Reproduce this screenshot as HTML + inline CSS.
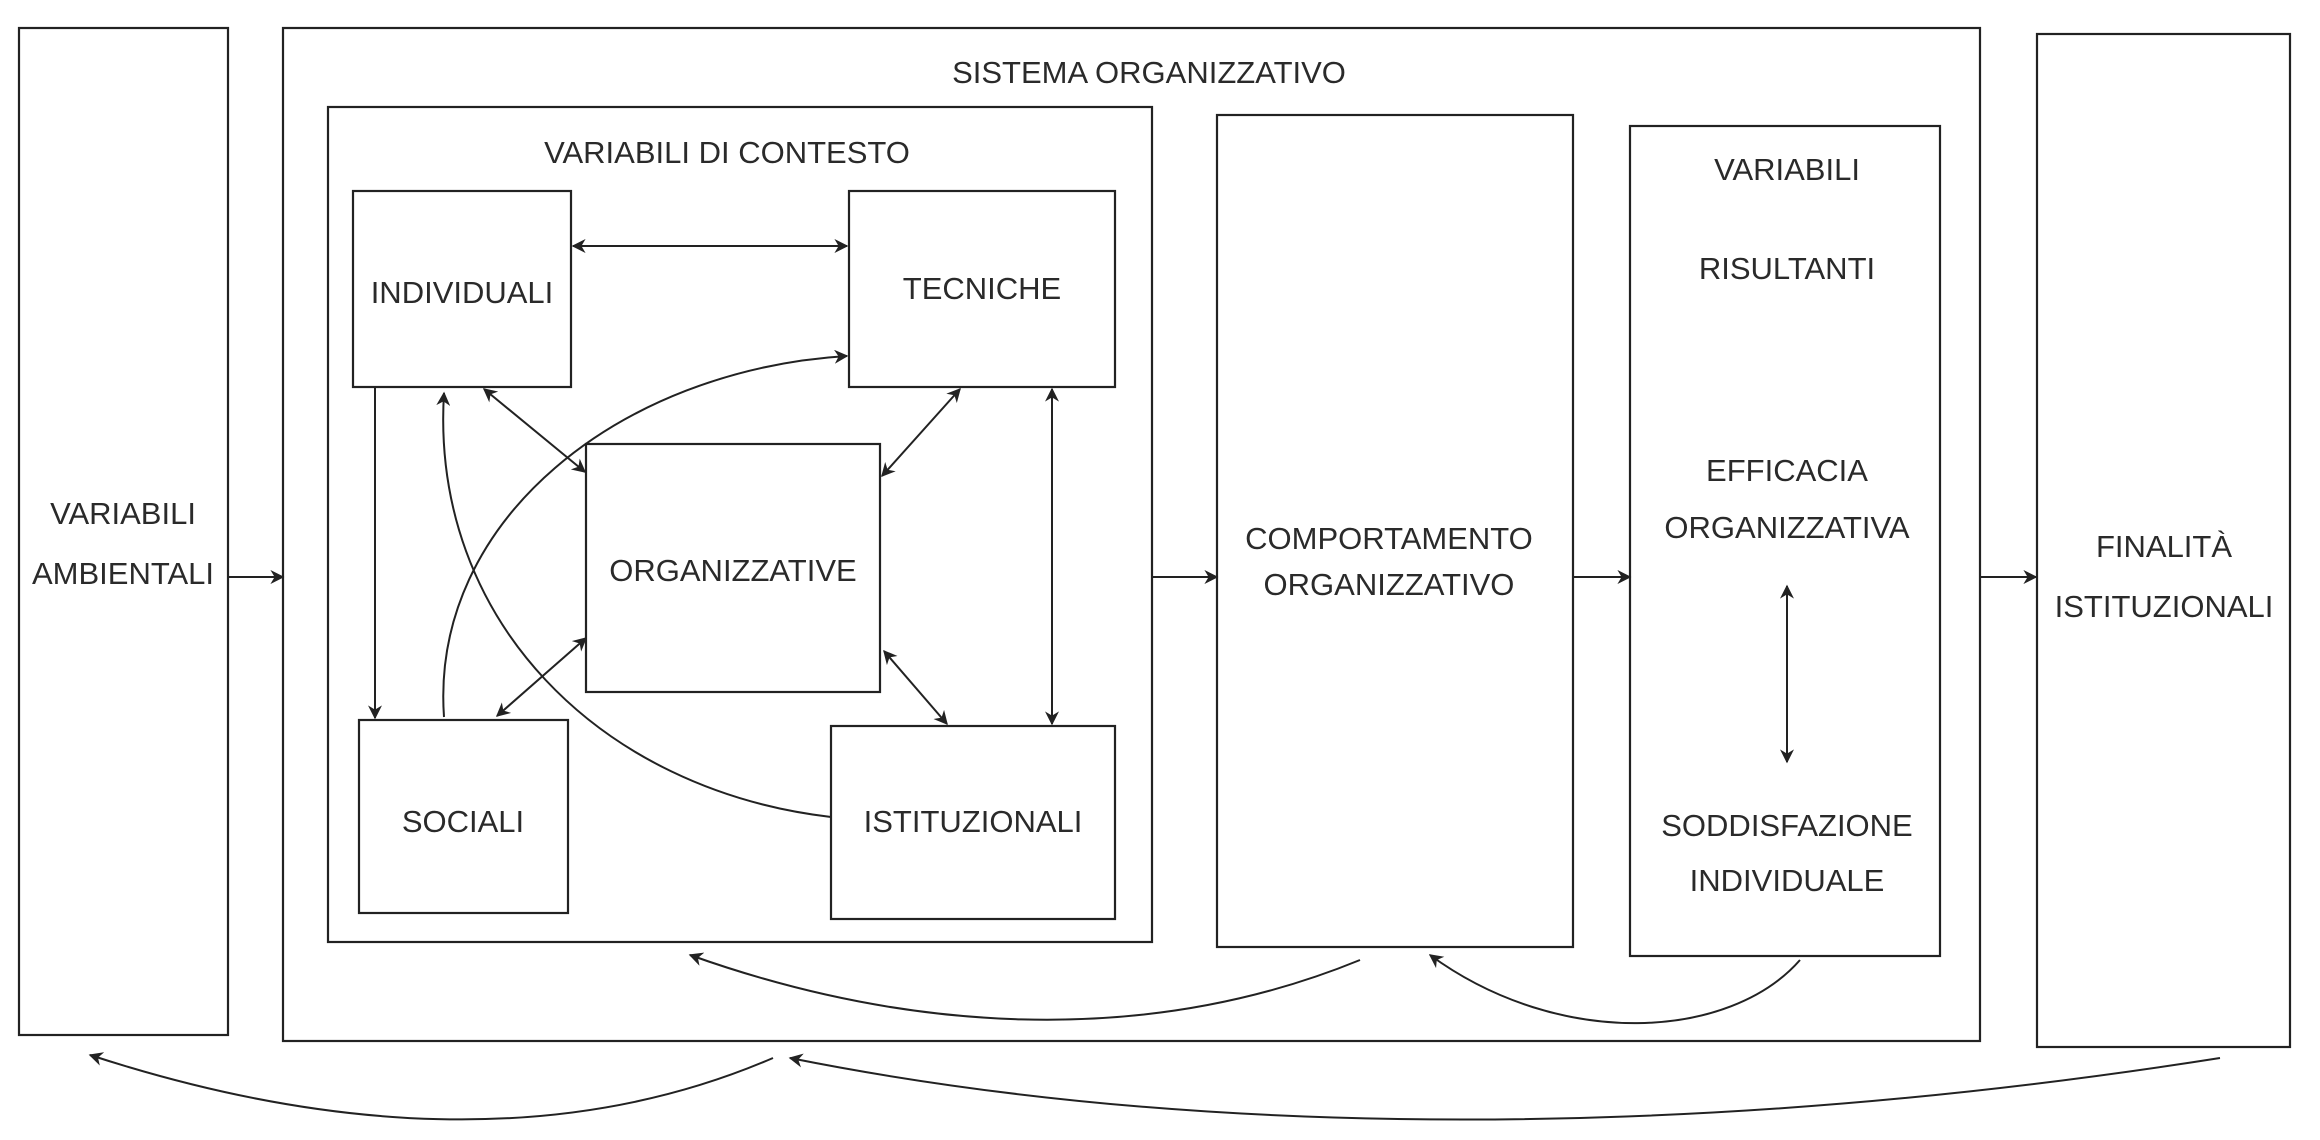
<!DOCTYPE html>
<html><head><meta charset="utf-8"><style>
html,body{margin:0;padding:0;background:#fff;}
svg{display:block;}
text{font-family:"Liberation Sans",sans-serif;font-size:31px;fill:#2a2a2a;text-anchor:middle;}
</style></head><body>
<svg width="2320" height="1140" viewBox="0 0 2320 1140" xmlns="http://www.w3.org/2000/svg">
<defs>
<marker id="a" viewBox="0 0 10 10" refX="9" refY="5" markerWidth="7" markerHeight="7" markerUnits="userSpaceOnUse" orient="auto-start-reverse">
<path d="M0,0 L10,5 L0,10 L3,5 z" fill="#222"/>
</marker>
<marker id="b" viewBox="0 0 10 10" refX="9" refY="5" markerWidth="14" markerHeight="14" markerUnits="userSpaceOnUse" orient="auto-start-reverse">
<path d="M0,0 L10,5 L0,10 L3,5 z" fill="#222"/>
</marker>
</defs>
<g fill="none" stroke="#222" stroke-width="2.2">
<rect x="19" y="28" width="209" height="1007"/>
<rect x="283" y="28" width="1697" height="1013"/>
<rect x="328" y="107" width="824" height="835"/>
<rect x="353" y="191" width="218" height="196"/>
<rect x="849" y="191" width="266" height="196"/>
<rect x="586" y="444" width="294" height="248"/>
<rect x="359" y="720" width="209" height="193"/>
<rect x="831" y="726" width="284" height="193"/>
<rect x="1217" y="115" width="356" height="832"/>
<rect x="1630" y="126" width="310" height="830"/>
<rect x="2037" y="34" width="253" height="1013"/>
</g>
<g fill="none" stroke="#222" stroke-width="2">
<line x1="228" y1="577" x2="283" y2="577" marker-end="url(#b)"/>
<line x1="1152" y1="577" x2="1217" y2="577" marker-end="url(#b)"/>
<line x1="1573" y1="577" x2="1630" y2="577" marker-end="url(#b)"/>
<line x1="1980" y1="577" x2="2036" y2="577" marker-end="url(#b)"/>
<line x1="573" y1="246" x2="847" y2="246" marker-start="url(#b)" marker-end="url(#b)"/>
<line x1="375" y1="387" x2="375" y2="718" marker-end="url(#b)"/>
<line x1="484" y1="389" x2="585" y2="472" marker-start="url(#b)" marker-end="url(#b)"/>
<line x1="960" y1="389" x2="882" y2="476" marker-start="url(#b)" marker-end="url(#b)"/>
<line x1="1052" y1="389" x2="1052" y2="724" marker-start="url(#b)" marker-end="url(#b)"/>
<line x1="586" y1="638" x2="497" y2="716" marker-start="url(#b)" marker-end="url(#b)"/>
<line x1="884" y1="651" x2="947" y2="724" marker-start="url(#b)" marker-end="url(#b)"/>
<line x1="1787" y1="586" x2="1787" y2="762" marker-start="url(#b)" marker-end="url(#b)"/>
<path d="M444,717 C430,520 620,370 847,356" marker-end="url(#b)"/>
<path d="M831,817 C600,790 430,620 444,393" marker-end="url(#b)"/>
<path d="M1800,960 C1730,1040 1560,1050 1430,955" marker-end="url(#b)"/>
<path d="M1360,960 C1140,1050 900,1030 690,955" marker-end="url(#b)"/>
<path d="M2220,1058 C1700,1140 1200,1140 790,1058" marker-end="url(#b)"/>
<path d="M773,1058 C560,1150 320,1130 90,1055" marker-end="url(#b)"/>
</g>
<text x="1149" y="83">SISTEMA  ORGANIZZATIVO</text>
<text x="727" y="163">VARIABILI DI CONTESTO</text>
<text x="462" y="303">INDIVIDUALI</text>
<text x="982" y="299">TECNICHE</text>
<text x="733" y="581">ORGANIZZATIVE</text>
<text x="463" y="832">SOCIALI</text>
<text x="973" y="832">ISTITUZIONALI</text>
<text x="123" y="524">VARIABILI</text>
<text x="123" y="584">AMBIENTALI</text>
<text x="1389" y="549">COMPORTAMENTO</text>
<text x="1389" y="595">ORGANIZZATIVO</text>
<text x="1787" y="180">VARIABILI</text>
<text x="1787" y="279">RISULTANTI</text>
<text x="1787" y="481">EFFICACIA</text>
<text x="1787" y="538">ORGANIZZATIVA</text>
<text x="1787" y="836">SODDISFAZIONE</text>
<text x="1787" y="891">INDIVIDUALE</text>
<text x="2164" y="557">FINALITÀ</text>
<text x="2164" y="617">ISTITUZIONALI</text>
</svg>
</body></html>
